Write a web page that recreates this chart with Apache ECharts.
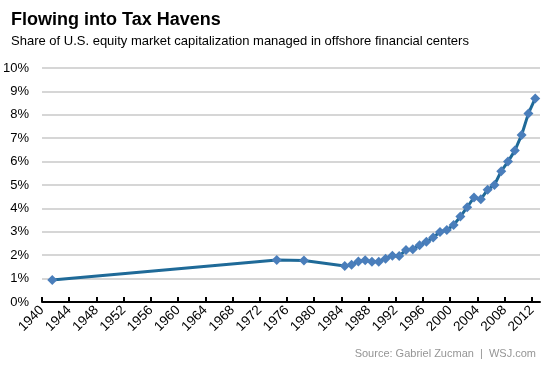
<!DOCTYPE html>
<html>
<head>
<meta charset="utf-8">
<script src="https://cdn.jsdelivr.net/npm/echarts@6/dist/echarts.min.js"></script>
<style>
html,body{margin:0;padding:0;background:#fff;}
#chart{width:553px;height:369px;}
</style>
</head>
<body>
<div id="chart"></div>
<script>
var years = [1941, 1974, 1978, 1984, 1985, 1986, 1987, 1988, 1989, 1990, 1991, 1992, 1993, 1994, 1995, 1996, 1997, 1998, 1999, 2000, 2001, 2002, 2003, 2004, 2005, 2006, 2007, 2008, 2009, 2010, 2011, 2012];
var shares = [0.94, 1.79, 1.77, 1.54, 1.59, 1.73, 1.78, 1.72, 1.72, 1.85, 1.98, 1.97, 2.22, 2.25, 2.42, 2.58, 2.76, 2.99, 3.08, 3.29, 3.65, 4.05, 4.47, 4.39, 4.80, 5.00, 5.59, 6.00, 6.47, 7.14, 8.06, 8.70];
var tickYears = [1940, 1944, 1948, 1952, 1956, 1960, 1964, 1968, 1972, 1976, 1980, 1984, 1988, 1992, 1996, 2000, 2004, 2008, 2012];

var chart = echarts.init(document.getElementById('chart'));
var pts = years.map(function (y, i) { return [y + 0.5, shares[i]]; });
chart.setOption({
  animation: false,
  textStyle: { fontFamily: 'Liberation Sans, Arial, sans-serif' },
  title: {
    text: 'Flowing into Tax Havens',
    subtext: 'Share of U.S. equity market capitalization managed in offshore financial centers',
    left: 6, top: 6, itemGap: 6,
    textStyle: { fontSize: 18, fontWeight: 'bold', color: '#000', fontFamily: 'Liberation Sans, Arial, sans-serif' },
    subtextStyle: { fontSize: 13, color: '#000', fontFamily: 'Liberation Sans, Arial, sans-serif' }
  },
  grid: { left: 38, right: 13, top: 68, bottom: 67, containLabel: false },
  xAxis: {
    type: 'value', min: 1940, max: 2013.2, interval: 4,
    axisLine: { show: true, lineStyle: { color: '#000', width: 2 } },
    axisTick: { show: true, inside: true, length: 5, lineStyle: { color: '#000', width: 2 }, customValues: tickYears },
    axisLabel: { rotate: 45, fontSize: 13.5, color: '#000', margin: 6, customValues: tickYears,
      formatter: function (v) { return String(v); } },
    splitLine: { show: false }
  },
  yAxis: {
    type: 'value', min: 0, max: 10, interval: 1,
    axisLine: { show: false }, axisTick: { show: false },
    axisLabel: { fontSize: 13, color: '#000', margin: 13, formatter: '{value}%' },
    splitLine: { show: true, lineStyle: { color: '#c8c8c8', width: 1.5 } }
  },
  series: [{
    type: 'line', data: pts,
    lineStyle: { color: '#1f6a98', width: 3 },
    itemStyle: { color: '#4a7ebb' },
    symbol: 'diamond', symbolSize: 10, showAllSymbol: true
  }],
  graphic: [{
    type: 'text', right: 17, top: 348,
    style: { text: 'Source: Gabriel Zucman  |  WSJ.com', fill: '#959595', fontSize: 11, fontFamily: 'Liberation Sans, Arial, sans-serif' }
  }]
});
</script>
</body>
</html>
